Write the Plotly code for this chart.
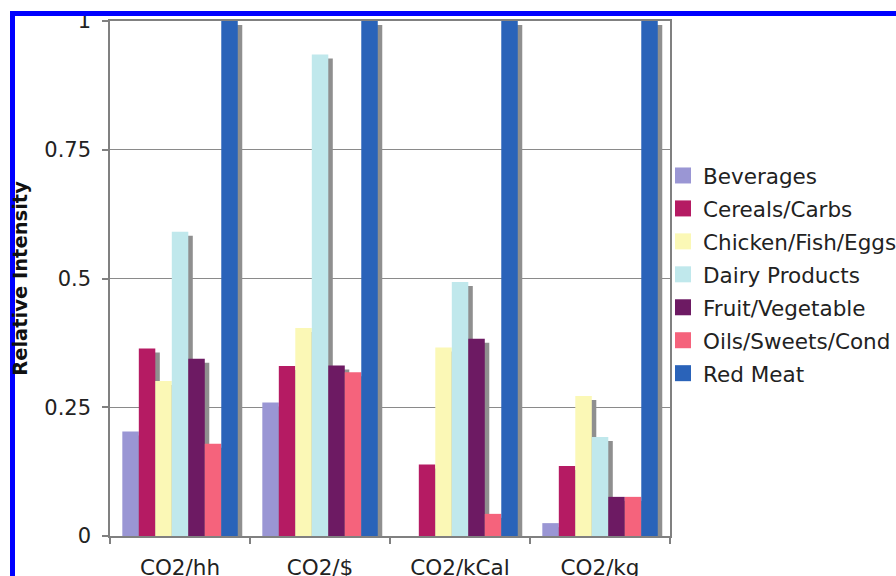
import plotly.graph_objects as go

# Emission intensity measures (x categories)
categories = ["CO2/hh", "CO2/$", "CO2/kCal", "CO2/kg"]

# Food groups, in legend order
series_names = [
    "Beverages",
    "Cereals/Carbs",
    "Chicken/Fish/Eggs",
    "Dairy Products",
    "Fruit/Vegetable",
    "Oils/Sweets/Cond",
    "Red Meat",
]

beverages = [0.203, 0.259, 0.0, 0.025]
cereals_carbs = [0.364, 0.330, 0.139, 0.136]
chicken_fish_eggs = [0.301, 0.404, 0.366, 0.272]
dairy_products = [0.591, 0.935, 0.493, 0.192]
fruit_vegetable = [0.344, 0.331, 0.383, 0.076]
oils_sweets_cond = [0.179, 0.318, 0.043, 0.076]
red_meat = [1.0, 1.0, 1.0, 1.0]

series_values = [
    beverages,
    cereals_carbs,
    chicken_fish_eggs,
    dairy_products,
    fruit_vegetable,
    oils_sweets_cond,
    red_meat,
]

colors = ["#9a96d4", "#b51b63", "#fbf8b6", "#c0e8ec", "#6d1a63", "#f5637c", "#2a63b9"]

y_ticks = [0, 0.25, 0.5, 0.75, 1]
y_tick_labels = ["0", "0.25", "0.5", "0.75", "1"]

# Layout geometry (pixels)
W, H = 896, 576
ML, MR, MT, MB = 110, 226, 21, 40
PW, PH = W - ML - MR, H - MT - MB

# Bar placement inside each category slot (category units)
bar_w = 0.1178
first_offset = -0.412
shadow_dx = 4.5 / 140.0      # shadow shift right
shadow_dy = 4.0 / PH         # shadow shift down (value units)
shadow_color = "#8f8f8f"

FONT = "DejaVu Sans"

fig = go.Figure()

# Drop shadows first so they sit behind every bar
for k, (name, vals) in enumerate(zip(series_names, series_values)):
    fig.add_trace(go.Bar(
        x=categories, y=vals, base=-shadow_dy,
        offset=first_offset + k * bar_w + shadow_dx, width=bar_w,
        marker=dict(color=shadow_color, line=dict(width=0)),
        showlegend=False, legendgroup=name, hoverinfo="skip",
    ))

for k, (name, vals, c) in enumerate(zip(series_names, series_values, colors)):
    fig.add_trace(go.Bar(
        x=categories, y=vals, name=name,
        offset=first_offset + k * bar_w, width=bar_w,
        marker=dict(color=c, line=dict(width=0)),
        showlegend=False, legendgroup=name,
    ))

# Square legend swatches
for name, c in zip(series_names, colors):
    fig.add_trace(go.Scatter(
        x=[None], y=[None], mode="markers", name=name, legendgroup=name,
        marker=dict(symbol="square", size=16, color=c),
    ))


def px_x(p):
    return (p - ML) / PW


def px_y(p):
    return (H - MB - p) / PH


fig.update_layout(
    width=W, height=H,
    margin=dict(l=ML, r=MR, t=MT, b=MB, autoexpand=False),
    paper_bgcolor="white", plot_bgcolor="white",
    barmode="overlay",
    font=dict(family=FONT, size=21, color="#222222"),
    xaxis=dict(
        type="category", categoryorder="array", categoryarray=categories,
        range=[-0.5, 3.5], tickson="boundaries", automargin=False,
        ticks="outside", ticklen=6, tickcolor="#808080", tickwidth=1.5,
        showline=True, linecolor="#808080", linewidth=1.5, mirror=True,
        showgrid=False, ticklabelstandoff=11,
        tickfont=dict(family=FONT, size=21.5, color="#222222"),
    ),
    yaxis=dict(
        range=[0, 1], tickvals=y_ticks, ticktext=y_tick_labels,
        automargin=False,
        ticks="outside", ticklen=6, tickcolor="#808080", tickwidth=1.5,
        showline=True, linecolor="#808080", linewidth=1.5, mirror=True,
        showgrid=True, gridcolor="#8a8a8a", gridwidth=1,
        zeroline=False, ticklabelstandoff=7,
        tickfont=dict(family=FONT, size=21, color="#222222"),
        title=dict(text="<b>Relative Intensity</b>", standoff=11,
                   font=dict(family=FONT, size=19.5, color="#111111")),
    ),
    legend=dict(
        x=px_x(663), xanchor="left", y=px_y(155), yanchor="top",
        font=dict(family=FONT, size=21.5, color="#222222"),
        tracegroupgap=2, bgcolor="rgba(0,0,0,0)", borderwidth=0,
        itemclick=False, itemdoubleclick=False,
    ),
    shapes=[
        dict(
            type="path", xref="paper", yref="paper", layer="above",
            path=(f"M {px_x(12.5)},{px_y(590)} L {px_x(12.5)},{px_y(13.5)} "
                  f"L {px_x(910)},{px_y(13.5)}"),
            line=dict(color="#0000ff", width=5),
        )
    ],
)

fig.write_html("out.html")
